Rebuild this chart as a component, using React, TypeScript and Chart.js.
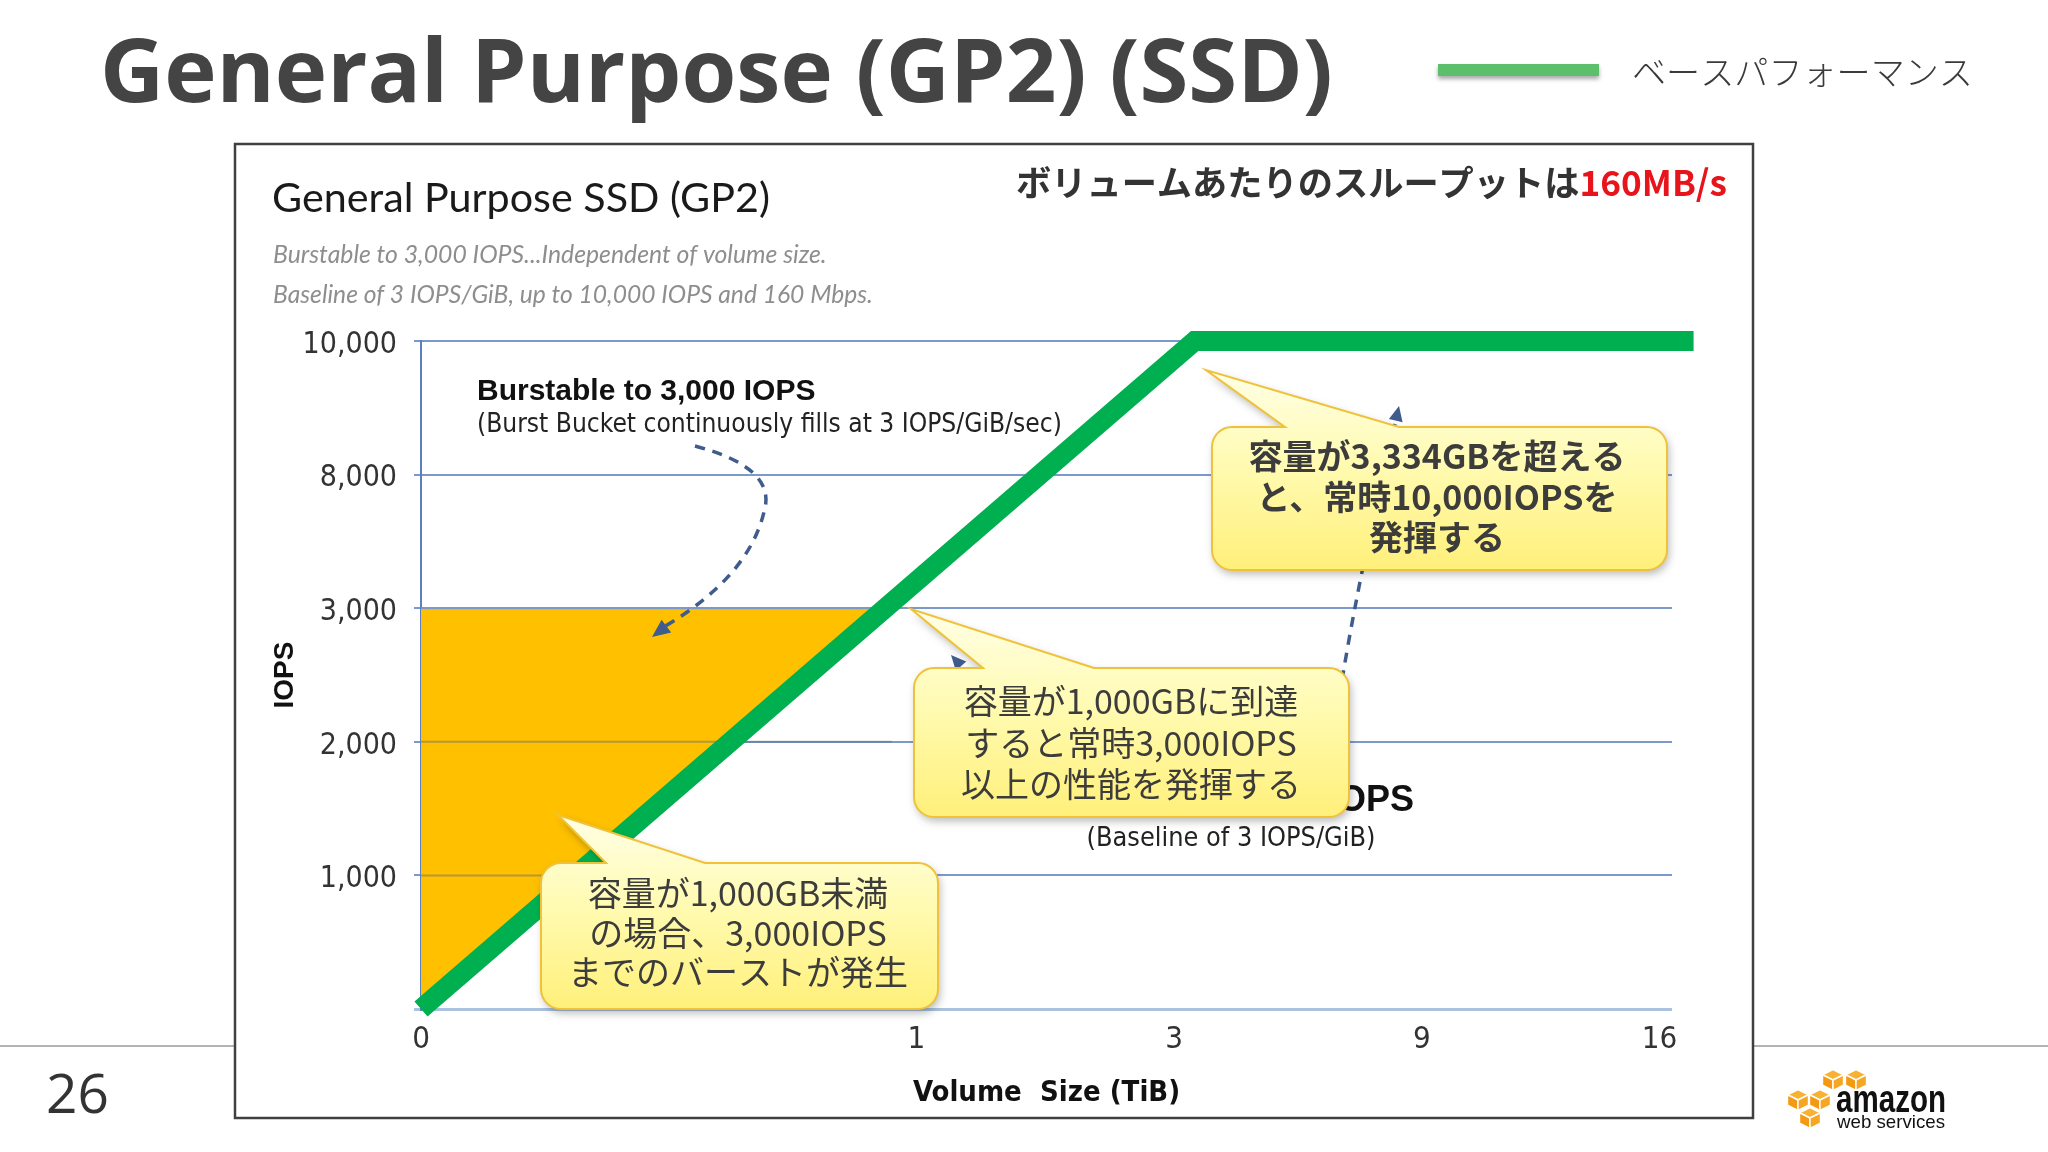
import React, { useEffect, useRef } from 'react';
import { Chart, registerables } from 'chart.js';
Chart.register(...registerables);

// ---------------- data ----------------
const xTickValues = [0, 1, 3, 9, 16]; // Volume size, TiB (broken axis)
const xTickLabels = ['0', '1', '3', '9', '16'];
const yTickValues = [0, 1000, 2000, 3000, 8000, 10000]; // IOPS (broken axis)
const yTickLabels = ['', '1,000', '2,000', '3,000', '8,000', '10,000'];

const baselineTiB = [0, 3.5, 17];
const baselineIOPS = [0, 10000, 10000];

const burstTiB = [0, 0, 0.95];
const burstIOPS = [0, 3000, 3000];

// relative slot of each tick along the broken axes (axis layout)
const xSlots = [0, 2, 3.04, 4.04, 5];
const ySlots = [0, 1, 2, 3, 4, 5];

function piece(v: number, vals: number[], slots: number[]) {
  const n = vals.length;
  for (let i = 1; i < n; i++) {
    if (v <= vals[i] || i === n - 1) {
      const t = (v - vals[i - 1]) / (vals[i] - vals[i - 1]);
      return slots[i - 1] + t * (slots[i] - slots[i - 1]);
    }
  }
  return 0;
}
const px = (t: number) => piece(t, xTickValues, xSlots);
const py = (v: number) => piece(v, yTickValues, ySlots);

// ---------------- fonts ----------------
const NARROW = '"Liberation Sans Narrow", "DejaVu Sans Condensed", "Liberation Sans", sans-serif';
const ARIAL = '"Liberation Sans", Arial, sans-serif';
const JP = '"Noto Sans CJK JP", "Noto Sans", sans-serif';
const OPEN = '"Open Sans", "Noto Sans", sans-serif';
const LATO = 'Lato, "Open Sans", sans-serif';

function txt(ctx: CanvasRenderingContext2D, s: string, x: number, y: number, font: string, color: string,
  align: CanvasTextAlign = 'left', baseline: CanvasTextBaseline = 'alphabetic') {
  ctx.font = font;
  ctx.fillStyle = color;
  ctx.textAlign = align;
  ctx.textBaseline = baseline;
  ctx.fillText(s, x, y);
}
function fit(ctx: CanvasRenderingContext2D, s: string, pre: string, family: string, base: number, target: number) {
  ctx.font = `${pre} ${base}px ${family}`;
  const w = ctx.measureText(s).width;
  return w > 0 ? base * target / w : base;
}
// text squeezed horizontally to a given width (keeps the glyph height)
function squeezed(ctx: CanvasRenderingContext2D, s: string, x: number, y: number, font: string, color: string, width: number) {
  ctx.save();
  ctx.font = font;
  const w = ctx.measureText(s).width;
  ctx.translate(x, y);
  ctx.scale(width / w, 1);
  txt(ctx, s, 0, 0, font, color);
  ctx.restore();
}

function calloutPath(ctx: CanvasRenderingContext2D, x: number, y: number, w: number, h: number, r: number,
  tipX: number, tipY: number, bl: number, br: number) {
  ctx.beginPath();
  ctx.moveTo(x + r, y);
  ctx.lineTo(bl, y);
  ctx.lineTo(tipX, tipY);
  ctx.lineTo(br, y);
  ctx.lineTo(x + w - r, y);
  ctx.arcTo(x + w, y, x + w, y + r, r);
  ctx.lineTo(x + w, y + h - r);
  ctx.arcTo(x + w, y + h, x + w - r, y + h, r);
  ctx.lineTo(x + r, y + h);
  ctx.arcTo(x, y + h, x, y + h - r, r);
  ctx.lineTo(x, y + r);
  ctx.arcTo(x, y, x + r, y, r);
  ctx.closePath();
}

function callout(ctx: CanvasRenderingContext2D, b: { x: number; y: number; w: number; h: number },
  tip: [number, number], base: [number, number], lines: string[], cx: number, ys: number[], font: string) {
  ctx.save();
  const g = ctx.createLinearGradient(0, Math.min(tip[1], b.y), 0, b.y + b.h);
  g.addColorStop(0, '#FFFFE6');
  g.addColorStop(0.45, '#FFFBB4');
  g.addColorStop(1, '#FFF07A');
  calloutPath(ctx, b.x, b.y, b.w, b.h, 20, tip[0], tip[1], base[0], base[1]);
  ctx.shadowColor = 'rgba(0,0,0,0.28)';
  ctx.shadowBlur = 8;
  ctx.shadowOffsetX = 2;
  ctx.shadowOffsetY = 4;
  ctx.fillStyle = g;
  ctx.fill();
  ctx.shadowColor = 'transparent';
  ctx.lineWidth = 2;
  ctx.strokeStyle = '#EFC23A';
  ctx.stroke();
  lines.forEach((l, i) => txt(ctx, l, cx, ys[i], font, '#3c3c3c', 'center', 'middle'));
  ctx.restore();
}

function arrowHead(ctx: CanvasRenderingContext2D, tx: number, ty: number, ang: number, len = 16, wid = 8) {
  const bx = tx - Math.cos(ang) * len, by = ty - Math.sin(ang) * len;
  const nx = -Math.sin(ang) * wid, ny = Math.cos(ang) * wid;
  ctx.beginPath();
  ctx.moveTo(tx, ty);
  ctx.lineTo(bx + nx, by + ny);
  ctx.lineTo(bx - nx, by - ny);
  ctx.closePath();
  ctx.fill();
}

function cube(ctx: CanvasRenderingContext2D, cx: number, cy: number, s: number) {
  const faces: [number, number][][] = [
    [[cx, cy - s], [cx + s, cy - s / 2], [cx, cy], [cx - s, cy - s / 2]],
    [[cx - s, cy - s / 2], [cx, cy], [cx, cy + s], [cx - s, cy + s / 2]],
    [[cx, cy], [cx + s, cy - s / 2], [cx + s, cy + s / 2], [cx, cy + s]],
  ];
  const cols = ['#F8B133', '#F39A12', '#F6A623'];
  faces.forEach((f, i) => {
    ctx.beginPath();
    f.forEach(([x, y], j) => (j ? ctx.lineTo(x, y) : ctx.moveTo(x, y)));
    ctx.closePath();
    ctx.fillStyle = cols[i];
    ctx.fill();
    ctx.strokeStyle = '#fff';
    ctx.lineWidth = 1.4;
    ctx.stroke();
  });
}

const decor = {
  id: 'decor',
  beforeDraw(chart: any) {
    const ctx: CanvasRenderingContext2D = chart.ctx;
    ctx.save();
    ctx.fillStyle = '#ffffff';
    ctx.fillRect(0, 0, chart.width, chart.height);

    // footer rule
    ctx.strokeStyle = '#9a9a9a';
    ctx.lineWidth = 1.5;
    ctx.beginPath();
    ctx.moveTo(0, 1046); ctx.lineTo(236, 1046);
    ctx.moveTo(1752, 1046); ctx.lineTo(2048, 1046);
    ctx.stroke();

    // embedded chart frame
    ctx.fillStyle = '#ffffff';
    ctx.fillRect(236, 145, 1516, 972);
    ctx.strokeStyle = '#404040';
    ctx.lineWidth = 2.5;
    ctx.strokeRect(235, 144, 1518, 974);

    // slide title
    const t = 'General Purpose (GP2) (SSD)';
    const ts = fit(ctx, t, 'bold', OPEN, 85, 1233);
    txt(ctx, t, 100, 102, `bold ${ts}px ${OPEN}`, '#444444');

    // legend
    ctx.save();
    ctx.shadowColor = 'rgba(0,0,0,0.35)';
    ctx.shadowBlur = 4;
    ctx.shadowOffsetY = 3;
    ctx.fillStyle = '#5DBE6C';
    ctx.fillRect(1438, 64, 161, 12);
    ctx.restore();
    const lg = 'ベースパフォーマンス';
    const ls = fit(ctx, lg, '300', JP, 34, 341);
    txt(ctx, lg, 1632, 72, `300 ${ls}px ${JP}`, '#3a3a3a', 'left', 'middle');

    // page number
    txt(ctx, '26', 46, 1113, `55px ${OPEN}`, '#333333');

    // logo
    cube(ctx, 1833, 1080, 10.5);
    cube(ctx, 1856, 1080, 10.5);
    cube(ctx, 1798, 1100, 10.5);
    cube(ctx, 1820, 1100, 10.5);
    cube(ctx, 1810, 1118, 10.5);
    squeezed(ctx, 'amazon', 1836, 1112, `bold 39px ${ARIAL}`, '#111', 110);
    squeezed(ctx, 'web services', 1837, 1128, `19px ${ARIAL}`, '#111', 108);

    // embedded chart title & notes
    const it = 'General Purpose SSD (GP2)';
    const is = fit(ctx, it, '', LATO, 38, 498);
    txt(ctx, it, 272, 212, `${is}px ${LATO}`, '#1a1a1a');
    const s1 = 'Burstable to 3,000 IOPS...Independent of volume size.';
    const s1s = fit(ctx, s1, 'italic', LATO, 22, 554);
    txt(ctx, s1, 273, 263, `italic ${s1s}px ${LATO}`, '#8e8e8e');
    const s2 = 'Baseline of 3 IOPS/GiB, up to 10,000 IOPS and 160 Mbps.';
    const s2s = fit(ctx, s2, 'italic', LATO, 22, 600);
    txt(ctx, s2, 273, 303, `italic ${s2s}px ${LATO}`, '#8e8e8e');

    // throughput note
    const a = 'ボリュームあたりのスループットは';
    const b = '160MB/s';
    ctx.font = `bold 35px ${JP}`;
    const wa = ctx.measureText(a).width + ctx.measureText(b).width;
    const sz = 35 * 711 / wa;
    ctx.font = `bold ${sz}px ${JP}`;
    const w1 = ctx.measureText(a).width;
    txt(ctx, a, 1016, 183, `bold ${sz}px ${JP}`, '#333333', 'left', 'middle');
    txt(ctx, b, 1016 + w1, 183, `bold ${sz}px ${JP}`, '#E8141B', 'left', 'middle');
    ctx.restore();
  },
  beforeDatasetDraw(chart: any, args: any) {
    if (args.index !== 0) return;
    // grid lines showing through the burst area
    const ctx: CanvasRenderingContext2D = chart.ctx;
    const xs = chart.scales.x, ys = chart.scales.y;
    const left = chart.chartArea.left;
    const right = xs.getPixelForValue(px(burstTiB[2]));
    ctx.save();
    [1, 2, 3].forEach((slot) => {
      const y = ys.getPixelForValue(slot);
      ctx.strokeStyle = slot === 3 ? '#7B9ACB' : 'rgba(90,105,130,0.45)';
      ctx.lineWidth = 2;
      ctx.beginPath();
      ctx.moveTo(left, y);
      ctx.lineTo(right, y);
      ctx.stroke();
    });
    ctx.restore();
  },
  afterDatasetsDraw(chart: any) {
    const ctx: CanvasRenderingContext2D = chart.ctx;
    ctx.save();

    // burst note
    txt(ctx, 'Burstable to 3,000 IOPS', 477, 400, `bold 30px ${ARIAL}`, '#111');
    const bn = '(Burst Bucket continuously fills at 3 IOPS/GiB/sec)';
    const bns = fit(ctx, bn, '', NARROW, 27, 585);
    txt(ctx, bn, 477, 432, `${bns}px ${NARROW}`, '#222');

    // baseline note (mostly hidden by a callout)
    txt(ctx, 'Baseline Performance IOPS', 1414, 811, `bold 36px ${ARIAL}`, '#111', 'right');
    const bl = '(Baseline of 3 IOPS/GiB)';
    const bls = fit(ctx, bl, '', NARROW, 27, 289);
    txt(ctx, bl, 1231, 846, `${bls}px ${NARROW}`, '#222', 'center');

    // dashed arrows
    ctx.strokeStyle = '#3F5C8C';
    ctx.fillStyle = '#3F5C8C';
    ctx.lineWidth = 3.5;
    ctx.setLineDash([10, 8]);
    ctx.beginPath();
    ctx.moveTo(695, 446);
    ctx.quadraticCurveTo(778, 468, 764, 512);
    ctx.quadraticCurveTo(748, 578, 662, 628);
    ctx.stroke();
    ctx.beginPath();
    ctx.moveTo(1342, 680);
    ctx.quadraticCurveTo(1362, 560, 1395, 424);
    ctx.stroke();
    ctx.beginPath();
    ctx.moveTo(990, 700);
    ctx.lineTo(962, 668);
    ctx.stroke();
    ctx.setLineDash([]);
    arrowHead(ctx, 652, 637, Math.atan2(9, -12), 18, 8);
    arrowHead(ctx, 1399, 406, Math.atan2(-18, 4), 15, 7);
    arrowHead(ctx, 951, 655, Math.atan2(-10, -9), 15, 7);

    // callouts
    callout(ctx, { x: 1212, y: 427, w: 455, h: 143 }, [1206, 370], [1285, 1399],
      ['容量が3,334GBを超える', 'と、常時10,000IOPSを', '発揮する'], 1437, [456, 497, 537], `bold 34px ${JP}`);
    callout(ctx, { x: 914, y: 668, w: 435, h: 149 }, [911, 609], [983, 1094],
      ['容量が1,000GBに到達', 'すると常時3,000IOPS', '以上の性能を発揮する'], 1131, [701, 743, 784], `34px ${JP}`);
    callout(ctx, { x: 541, y: 863, w: 397, h: 146 }, [558, 815], [606, 705],
      ['容量が1,000GB未満', 'の場合、3,000IOPS', 'までのバーストが発生'], 738, [893, 933, 972], `34px ${JP}`);

    ctx.restore();
  },
};

export default function App() {
  const ref = useRef<HTMLCanvasElement>(null);
  useEffect(() => {
    document.body.style.margin = '0';
    const chart = new Chart(ref.current as HTMLCanvasElement, {
      type: 'line',
      data: {
        datasets: [
          {
            label: 'ベースパフォーマンス',
            data: baselineTiB.map((t, i) => ({ x: px(t), y: py(baselineIOPS[i]) })),
            borderColor: '#00B050',
            borderWidth: 20,
            borderJoinStyle: 'miter',
            borderCapStyle: 'butt',
            pointRadius: 0,
            fill: false,
            tension: 0,
            clip: false,
            order: 1,
          },
          {
            label: 'Burst',
            data: burstTiB.map((t, i) => ({ x: px(t), y: py(burstIOPS[i]) })),
            borderColor: 'rgba(0,0,0,0)',
            borderWidth: 0,
            backgroundColor: '#FFC000',
            pointRadius: 0,
            fill: 'shape',
            tension: 0,
            order: 2,
          },
        ],
      } as any,
      options: {
        animation: false,
        responsive: false,
        devicePixelRatio: 1,
        layout: { padding: { left: 268, right: 376, top: 341, bottom: 33 } },
        plugins: { legend: { display: false }, tooltip: { enabled: false }, title: { display: false } },
        scales: {
          x: {
            type: 'linear',
            min: 0,
            max: 5.05,
            afterFit: (s: any) => { s.height = 110; },
            afterBuildTicks: (s: any) => { s.ticks = xSlots.map((v) => ({ value: v })); },
            grid: { display: false, drawTicks: false },
            border: { display: false },
            ticks: {
              autoSkip: false,
              maxRotation: 0,
              padding: 12,
              color: '#333',
              font: { family: NARROW, size: 31 },
              callback: (_v: any, i: number) => xTickLabels[i],
            },
            title: {
              display: true,
              text: 'Volume  Size (TiB)',
              color: '#111',
              font: { family: NARROW, size: 29, weight: 'bold' },
              padding: { top: 0, bottom: 8 },
            },
          },
          y: {
            type: 'linear',
            min: 0,
            max: 5,
            afterFit: (s: any) => { s.width = 153; },
            afterBuildTicks: (s: any) => { s.ticks = ySlots.map((v) => ({ value: v })); },
            grid: {
              color: (c: any) => (c.tick && c.tick.value === 0 ? '#A9C3E0' : '#7B9ACB'),
              lineWidth: (c: any) => (c.tick && c.tick.value === 0 ? 3 : 2),
              tickLength: 7,
              drawTicks: true,
            },
            border: { display: true, color: '#5B7FC0', width: 2 },
            ticks: {
              autoSkip: false,
              padding: 17,
              labelOffset: 4,
              color: '#333',
              font: { family: NARROW, size: 30 },
              callback: (_v: any, i: number) => yTickLabels[i],
            },
            title: {
              display: true,
              text: 'IOPS',
              color: '#111',
              font: { family: ARIAL, size: 28, weight: 'bold' },
              padding: 0,
            },
          },
        },
      } as any,
      plugins: [decor],
    });
    return () => chart.destroy();
  }, []);
  return <canvas ref={ref} width={2048} height={1152} style={{ display: 'block' }} />;
}
